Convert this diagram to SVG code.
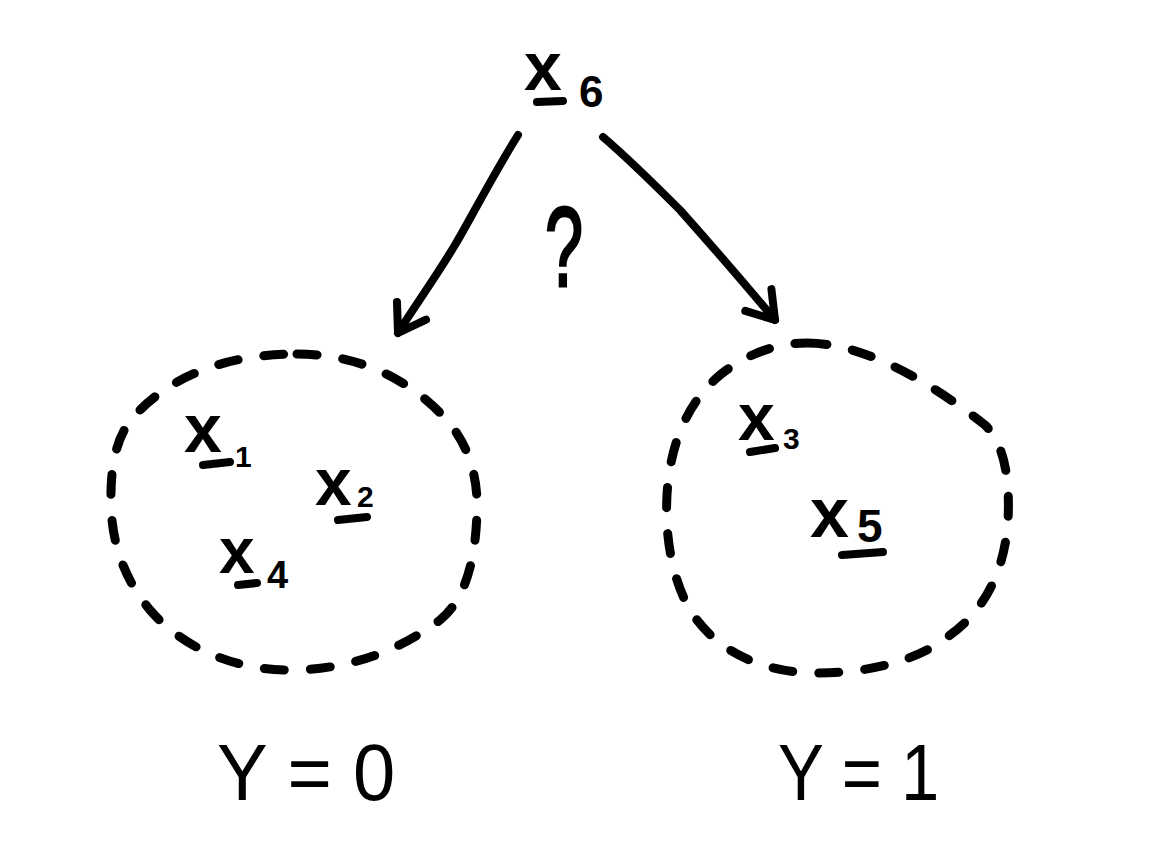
<svg xmlns="http://www.w3.org/2000/svg" width="1153" height="850" viewBox="0 0 1153 850">
<style>
.blob{fill:none;stroke:#000;stroke-width:9;stroke-linecap:round;stroke-linejoin:round;stroke-dasharray:20 26}
.edge{fill:none;stroke:#000;stroke-width:8;stroke-linecap:round;stroke-linejoin:round}
.ul{fill:none;stroke:#000;stroke-width:8;stroke-linecap:round}
.v{font-family:"Liberation Sans",Arial,sans-serif;font-weight:bold;fill:#000}
.lbl{font-family:"Liberation Sans",Arial,sans-serif;fill:#000}
</style>
<defs>
<marker id="head" markerUnits="userSpaceOnUse" markerWidth="60" markerHeight="60" refX="0" refY="0" viewBox="-30 -30 60 60" orient="auto" overflow="visible">
<path d="M -26,-17 L 0,0 L -26,17" fill="none" stroke="#000" stroke-width="8" stroke-linecap="round" stroke-linejoin="round"/>
</marker>
</defs>
<rect width="1153" height="850" fill="#fff"/>
<g id="connectors">
<path class="edge" d="M 518,135 C 490,180 470,220 455,245 C 432,283 412,310 398,333" marker-end="url(#head)"/>
<path class="edge" d="M 603,137 C 630,160 660,190 680,210 C 720,255 750,290 775,320" marker-end="url(#head)"/>
</g>
<g id="question">
<text class="lbl" transform="translate(564,286) scale(0.6,1)" text-anchor="middle" font-size="114" stroke="#000" stroke-width="3">?</text>
</g>
<g id="node-x6">
<text class="v" x="524" y="90" font-size="68">x<tspan x="579" y="107" font-size="44">6</tspan></text>
<path class="ul" d="M 537,102 L 563,101"/>
</g>
<g id="cluster-y0">
<path class="blob" d="M 297,354 C 360,354 410,380 445,418 C 470,445 478,480 477,510 C 476,560 465,600 440,620 C 400,650 350,670 290,670 C 230,670 180,645 150,610 C 125,580 112,545 111,505 C 110,460 118,430 140,410 C 170,380 220,354 297,354 Z"/>
<g id="node-x1">
<text class="v" x="184" y="452" font-size="68">x<tspan x="235" y="467" font-size="30">1</tspan></text>
<path class="ul" d="M 203,465 L 230,462"/>
</g>
<g id="node-x2">
<text class="v" x="315" y="505" font-size="66">x<tspan x="357" y="507" font-size="30">2</tspan></text>
<path class="ul" d="M 338,520 L 367,517"/>
</g>
<g id="node-x4">
<text class="v" x="219" y="573" font-size="64">x<tspan x="267" y="588" font-size="38">4</tspan></text>
<path class="ul" d="M 238,585 L 257,583"/>
</g>
<text class="lbl" transform="translate(217,800) scale(0.95,1)" font-size="80">Y = 0</text>
</g>
<g id="cluster-y1">
<path class="blob" d="M 807,343 C 870,343 940,390 985,425 C 1005,445 1010,480 1008,520 C 1005,570 985,610 950,635 C 920,660 870,673 818,673 C 760,673 715,650 690,610 C 670,575 665,530 667,495 C 670,440 690,400 720,375 C 745,355 775,343 807,343 Z"/>
<g id="node-x3">
<text class="v" x="738" y="440" font-size="66">x<tspan x="783" y="449" font-size="30">3</tspan></text>
<path class="ul" d="M 750,452 L 775,448"/>
</g>
<g id="node-x5">
<text class="v" x="810" y="537" font-size="70">x<tspan x="857" y="542" font-size="46">5</tspan></text>
<path class="ul" d="M 842,555 L 883,552"/>
</g>
<text class="lbl" transform="translate(778,800) scale(0.86,1)" font-size="80">Y = 1</text>
</g>
</svg>
